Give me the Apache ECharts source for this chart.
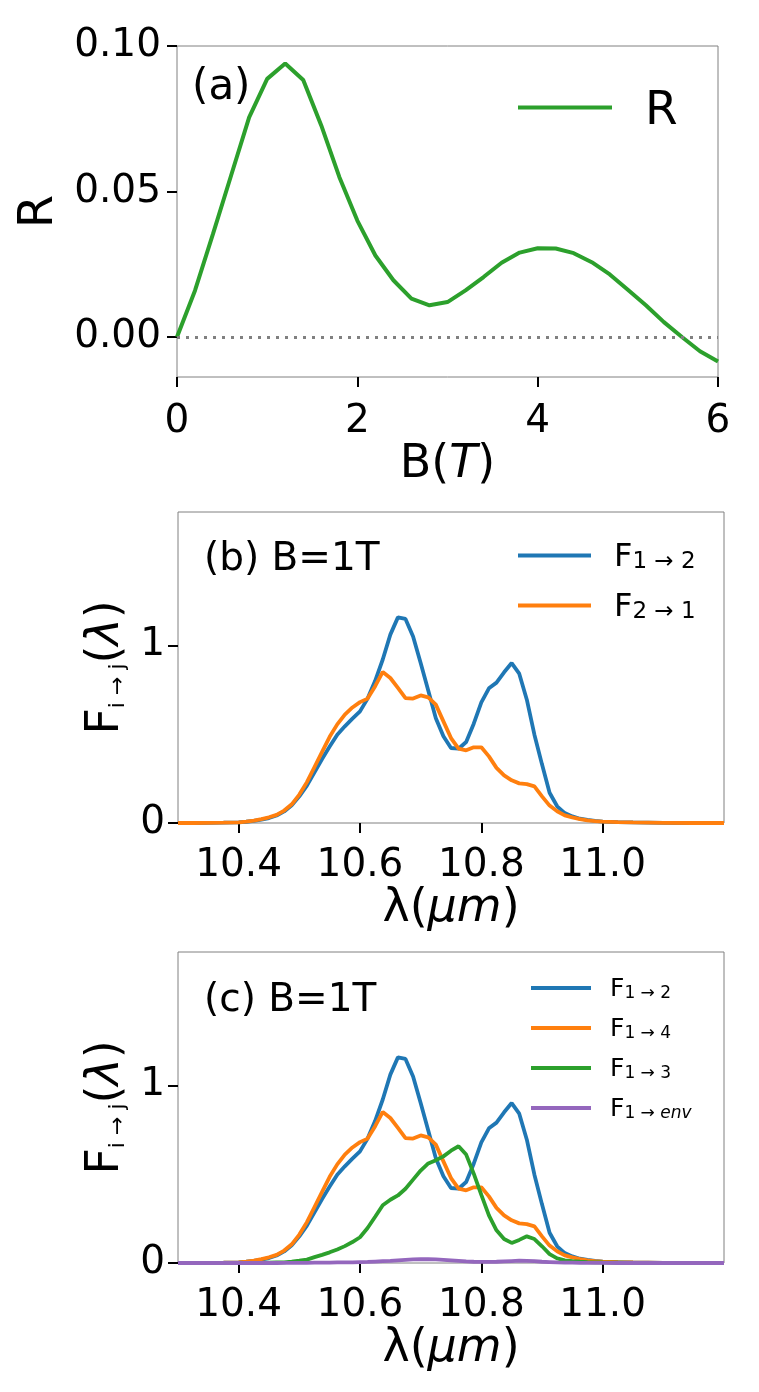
<!DOCTYPE html>
<html>
<head>
<meta charset="utf-8">
<title>R and F spectra</title>
<script src="https://cdn.jsdelivr.net/npm/echarts@6/dist/echarts.min.js"></script>
<style>
  body { margin: 0; background: #fff; }
  #main { width: 759px; height: 1392px; }
</style>
</head>
<body>
<div id="main"></div>
<script>
// panel (a): R versus B
var bField = [0, 0.2, 0.4, 0.6, 0.8, 1.0, 1.2, 1.4, 1.6, 1.8, 2.0, 2.2, 2.4, 2.6, 2.8, 3.0,
  3.2, 3.4, 3.6, 3.8, 4.0, 4.2, 4.4, 4.6, 4.8, 5.0, 5.2, 5.4, 5.6, 5.8, 6.0];
var rVal = [0, 0.016, 0.0355, 0.0555, 0.0755, 0.0887, 0.094, 0.0883, 0.0727, 0.055, 0.040,
  0.028, 0.0195, 0.0132, 0.0109, 0.012, 0.016, 0.0206, 0.0255, 0.029, 0.0305, 0.0304,
  0.0288, 0.0257, 0.0215, 0.0162, 0.0109, 0.0051, 0.0, -0.0049, -0.0084];

// panels (b),(c): wavelength grid
var lam = [10.30, 10.325, 10.35, 10.375, 10.40, 10.4125, 10.425, 10.4375, 10.45, 10.4625,
  10.475, 10.4875, 10.50, 10.5125, 10.525, 10.5375, 10.55, 10.5625, 10.575, 10.5875,
  10.60, 10.6125, 10.625, 10.6375, 10.65, 10.6625, 10.675, 10.6875, 10.70, 10.7125,
  10.725, 10.7375, 10.75, 10.7625, 10.775, 10.7875, 10.80, 10.8125, 10.825, 10.8375,
  10.85, 10.8625, 10.875, 10.8875, 10.90, 10.9125, 10.925, 10.9375, 10.95, 10.9625,
  10.975, 10.9875, 11.00, 11.025, 11.05, 11.10, 11.15, 11.20];
var f12 = [0, 0, 0.001, 0.002, 0.004, 0.007, 0.012, 0.019, 0.028, 0.042,
  0.065, 0.10, 0.15, 0.21, 0.285, 0.36, 0.43, 0.497, 0.544, 0.587,
  0.628, 0.70, 0.80, 0.92, 1.06, 1.157, 1.148, 1.05, 0.90, 0.745,
  0.59, 0.488, 0.422, 0.418, 0.456, 0.559, 0.679, 0.758, 0.79, 0.848,
  0.90, 0.84, 0.694, 0.497, 0.33, 0.17, 0.094, 0.056, 0.037, 0.024,
  0.017, 0.012, 0.008, 0.005, 0.003, 0.001, 0, 0];
var f21 = [0, 0, 0.001, 0.002, 0.004, 0.008, 0.014, 0.022, 0.032, 0.046,
  0.07, 0.105, 0.16, 0.23, 0.315, 0.40, 0.485, 0.555, 0.61, 0.65,
  0.68, 0.70, 0.77, 0.85, 0.816, 0.76, 0.703, 0.70, 0.718, 0.707,
  0.666, 0.572, 0.478, 0.418, 0.409, 0.426, 0.426, 0.375, 0.31, 0.268,
  0.24, 0.223, 0.219, 0.206, 0.15, 0.098, 0.066, 0.043, 0.032, 0.022,
  0.015, 0.011, 0.008, 0.005, 0.003, 0.001, 0, 0];
var f14 = f21.slice();
var f13 = [0, 0, 0, 0, 0, 0, 0.001, 0.001, 0.002, 0.003,
  0.004, 0.008, 0.013, 0.019, 0.033, 0.046, 0.06, 0.076, 0.095, 0.118,
  0.145, 0.197, 0.26, 0.325, 0.356, 0.38, 0.418, 0.469, 0.52, 0.56,
  0.578, 0.60, 0.632, 0.657, 0.61, 0.503, 0.383, 0.268, 0.184, 0.135,
  0.113, 0.13, 0.15, 0.135, 0.094, 0.05, 0.026, 0.015, 0.010, 0.007,
  0.005, 0.004, 0.003, 0.002, 0.001, 0, 0, 0];
var f1env = [0, 0, 0, 0, 0, 0, 0, 0, 0, 0,
  0.001, 0.001, 0.001, 0.001, 0.002, 0.002, 0.002, 0.003, 0.003, 0.004,
  0.005, 0.006, 0.008, 0.010, 0.012, 0.015, 0.018, 0.020, 0.021, 0.021,
  0.020, 0.018, 0.015, 0.012, 0.009, 0.007, 0.006, 0.006, 0.007, 0.009,
  0.011, 0.013, 0.012, 0.010, 0.007, 0.005, 0.003, 0.002, 0.002, 0.001,
  0.001, 0.001, 0.001, 0, 0, 0, 0, 0];

var rTicks = [0, 0.05, 0.10];
var bTicks = [0, 2, 4, 6];
var lamTicks = [10.4, 10.6, 10.8, 11.0];
var fTicks = [0, 1];

var FONT = 'DejaVu Sans';
var BLUE = '#1f77b4', ORANGE = '#ff7f0e', GREEN = '#2ca02c', PURPLE = '#9467bd';

var legendText = {
  b12: '{m|F}{s|1 → 2}',
  b21: '{m|F}{s|2 → 1}',
  c12: '{m|F}{s|1 → 2}',
  c14: '{m|F}{s|1 → 4}',
  c13: '{m|F}{s|1 → 3}',
  cenv: '{m|F}{s|1 → }{si|env}'
};

function pairs(xs, ys) {
  return xs.map(function (x, i) { return [x, ys[i]]; });
}

function tickStyle() {
  return { show: true, length: 10, lineStyle: { color: '#000', width: 2 } };
}

function xAxisOf(grid, min, max, ticks, fmt, name, gap, labelMargin) {
  return {
    type: 'value', gridIndex: grid, min: min, max: max,
    axisLine: { show: false, onZero: false },
    splitLine: { show: false },
    axisTick: Object.assign(tickStyle(), { customValues: ticks }),
    axisLabel: { customValues: ticks, formatter: fmt, fontSize: 39, fontFamily: FONT,
      color: '#000', margin: labelMargin },
    name: name, nameLocation: 'middle', nameGap: gap,
    nameTextStyle: {
      color: '#000', fontFamily: FONT, fontSize: 46, lineHeight: 46,
      rich: {
        r: { fontSize: 46, lineHeight: 46, fontFamily: FONT, color: '#000' },
        i: { fontSize: 46, lineHeight: 46, fontFamily: FONT, fontStyle: 'italic', color: '#000' }
      }
    }
  };
}

function yAxisOf(grid, min, max, ticks, fmt, name, gap, labelMargin, nameSize) {
  return {
    type: 'value', gridIndex: grid, min: min, max: max,
    axisLine: { show: false, onZero: false },
    splitLine: { show: false },
    axisTick: Object.assign(tickStyle(), { customValues: ticks }),
    axisLabel: { customValues: ticks, formatter: fmt, fontSize: 39, fontFamily: FONT,
      color: '#000', margin: labelMargin, padding: [7, 0, 0, 0] },
    name: name, nameLocation: 'middle', nameGap: gap, nameRotate: 90,
    nameTextStyle: {
      color: '#000', fontFamily: FONT, fontSize: nameSize, lineHeight: nameSize,
      rich: {
        m: { fontSize: 46, lineHeight: 46, fontFamily: FONT, color: '#000' },
        mi: { fontSize: 46, lineHeight: 46, fontFamily: FONT, fontStyle: 'italic', color: '#000' },
        s: { fontSize: 22, lineHeight: 24, verticalAlign: 'bottom', fontFamily: FONT, color: '#000' }
      }
    }
  };
}

function legendOf(names, left, top, itemWidth, size, subSize, subH, gap, pad) {
  return {
    data: names, orient: 'vertical', left: left, top: top, padding: 0,
    icon: 'rect', itemWidth: itemWidth, itemHeight: 4, itemGap: gap, selectedMode: false,
    formatter: function (n) { return legendText[n] || n; },
    textStyle: {
      color: '#000', fontFamily: FONT, fontSize: size, lineHeight: size, padding: pad,
      rich: {
        m: { fontSize: size, lineHeight: size, fontFamily: FONT, color: '#000' },
        s: { fontSize: subSize, lineHeight: subH, verticalAlign: 'bottom', fontFamily: FONT, color: '#000' },
        si: { fontSize: subSize, lineHeight: subH, verticalAlign: 'bottom', fontStyle: 'italic',
          fontFamily: FONT, color: '#000' }
      }
    }
  };
}

function lineSeries(name, x, y, color, xi, width) {
  return {
    name: name, type: 'line', xAxisIndex: xi, yAxisIndex: xi,
    data: pairs(x, y), symbol: 'none', showSymbol: false, smooth: false,
    lineStyle: { color: color, width: width }, itemStyle: { color: color }
  };
}

var fix2 = function (v) { return v.toFixed(2); };
var fix1 = function (v) { return v.toFixed(1); };
var plain = function (v) { return String(v); };
var yLabelF = '{m|F}{s|i → j}{m|(}{mi|λ}{m|)}';
var frame = { show: true, borderColor: '#808080', borderWidth: 1, backgroundColor: '#fff' };

var chart = echarts.init(document.getElementById('main'), null, { renderer: 'canvas' });

var rSeries = lineSeries('R', bField, rVal, GREEN, 0, 4);
rSeries.markLine = {
  silent: true, symbol: ['none', 'none'], label: { show: false },
  lineStyle: { color: '#808080', width: 3, type: [3, 6] },
  data: [{ yAxis: 0 }]
};

chart.setOption({
  animation: false,
  backgroundColor: '#fff',
  grid: [
    Object.assign({ left: 177, top: 46, width: 541, height: 331 }, frame),
    Object.assign({ left: 178, top: 512, width: 546, height: 311 }, frame),
    Object.assign({ left: 178, top: 952, width: 546, height: 311 }, frame)
  ],
  xAxis: [
    xAxisOf(0, 0, 6, bTicks, plain, '{r|B(}{i|T}{r|)}', 56, 25),
    xAxisOf(1, 10.3, 11.2, lamTicks, fix1, '{r|λ(}{i|μm}{r|)}', 51, 23),
    xAxisOf(2, 10.3, 11.2, lamTicks, fix1, '{r|λ(}{i|μm}{r|)}', 51, 23)
  ],
  yAxis: [
    yAxisOf(0, -0.01375, 0.1, rTicks, fix2, 'R', 92, 16, 48),
    yAxisOf(1, 0, 1.75, fTicks, plain, yLabelF, 46, 13, 46),
    yAxisOf(2, 0, 1.75, fTicks, plain, yLabelF, 46, 13, 46)
  ],
  legend: [
    legendOf(['R'], 518, 80, 94, 47, 30, 20, 10, [8, 0, 0, 28]),
    legendOf(['b12', 'b21'], 518, 537, 73, 32, 23, 18, 13, [5, 0, 0, 18]),
    legendOf(['c12', 'c14', 'c13', 'cenv'], 531, 974, 60, 25, 17, 9, 12, [3, 0, 0, 14])
  ],
  graphic: [
    { type: 'text', x: 192, y: 88, style: { text: '(a)', fontSize: 42, fontFamily: FONT, fill: '#000', verticalAlign: 'middle', align: 'left' } },
    { type: 'text', x: 204, y: 560, style: { text: '(b) B=1T', fontSize: 39, fontFamily: FONT, fill: '#000', verticalAlign: 'middle', align: 'left' } },
    { type: 'text', x: 204, y: 1001, style: { text: '(c) B=1T', fontSize: 39, fontFamily: FONT, fill: '#000', verticalAlign: 'middle', align: 'left' } }
  ],
  series: [
    rSeries,
    lineSeries('b12', lam, f12, BLUE, 1, 3.8),
    lineSeries('b21', lam, f21, ORANGE, 1, 3.8),
    lineSeries('c12', lam, f12, BLUE, 2, 3.8),
    lineSeries('c14', lam, f14, ORANGE, 2, 3.8),
    lineSeries('c13', lam, f13, GREEN, 2, 3.8),
    lineSeries('cenv', lam, f1env, PURPLE, 2, 3.8)
  ]
});
</script>
</body>
</html>
